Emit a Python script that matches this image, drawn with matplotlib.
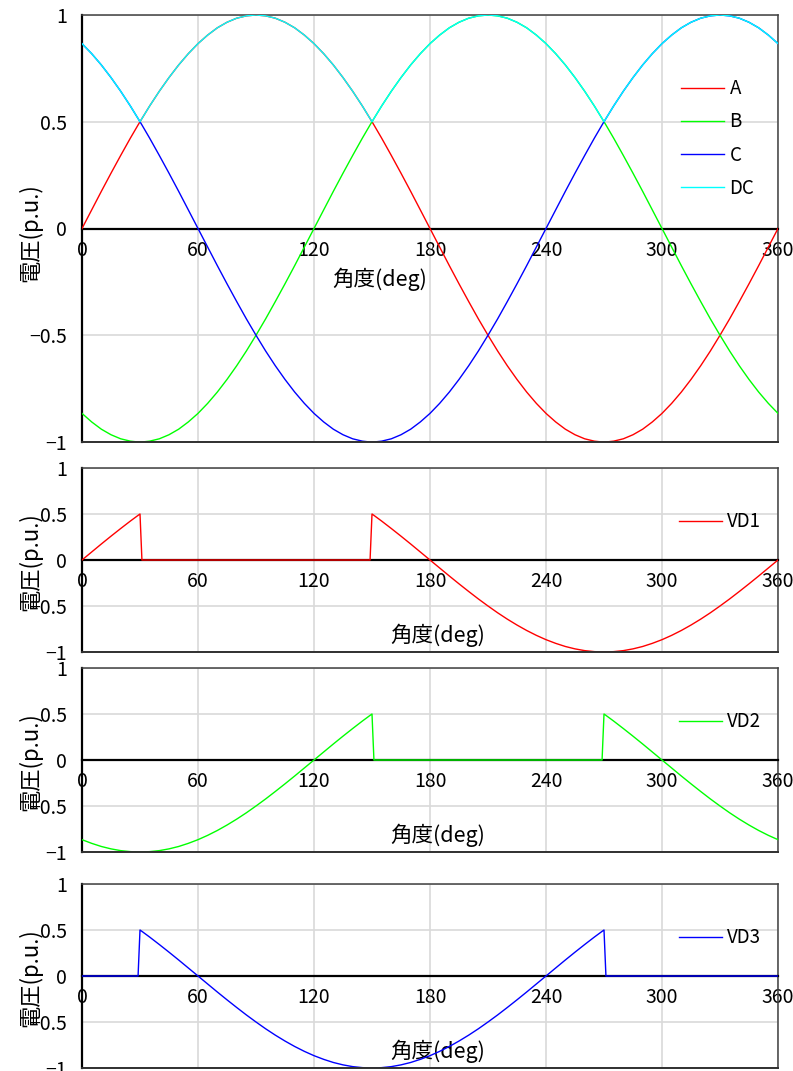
import matplotlib
matplotlib.use('Agg')
import matplotlib.pyplot as plt
import numpy as np

plt.rcParams['font.family'] = ['Noto Sans CJK JP', 'DejaVu Sans']

# angle grid (deg), with extra points around the commutation instants
deg = [0, 5, 10, 15, 20, 25, 29, 30, 31,
       35, 40, 45, 50, 55, 60, 65, 70, 75, 80, 85, 90,
       95, 100, 105, 110, 115, 120, 125, 130, 135, 140, 145,
       149, 150, 151,
       155, 160, 165, 170, 175, 180,
       185, 190, 195, 200, 205, 210, 215, 220, 225, 230, 235, 240, 245, 250,
       255, 260, 265,
       269, 270, 271,
       275, 280, 285, 290, 295, 300, 305, 310, 315, 320, 325, 330, 335, 340,
       345, 350, 355, 360]

# phase voltages (p.u.)
va = [0, 0.087, 0.174, 0.259, 0.342, 0.423, 0.485, 0.5, 0.515,
      0.574, 0.643, 0.707, 0.766, 0.819, 0.866, 0.906, 0.940, 0.966, 0.985,
      0.996, 1.0,
      0.996, 0.985, 0.966, 0.940, 0.906, 0.866, 0.819, 0.766, 0.707, 0.643,
      0.574,
      0.515, 0.5, 0.485,
      0.423, 0.342, 0.259, 0.174, 0.087, 0,
      -0.087, -0.174, -0.259, -0.342, -0.423, -0.5, -0.574, -0.643, -0.707,
      -0.766, -0.819, -0.866, -0.906, -0.940, -0.966, -0.985, -0.996,
      -1.0, -1.0, -1.0,
      -0.996, -0.985, -0.966, -0.940, -0.906, -0.866, -0.819, -0.766, -0.707,
      -0.643, -0.574, -0.5, -0.423, -0.342, -0.259, -0.174, -0.087, 0]
vb = [-0.866, -0.906, -0.940, -0.966, -0.985, -0.996, -1.0, -1.0, -1.0,
      -0.996, -0.985, -0.966, -0.940, -0.906, -0.866, -0.819, -0.766, -0.707,
      -0.643, -0.574, -0.5,
      -0.423, -0.342, -0.259, -0.174, -0.087, 0, 0.087, 0.174, 0.259, 0.342,
      0.423,
      0.485, 0.5, 0.515,
      0.574, 0.643, 0.707, 0.766, 0.819, 0.866,
      0.906, 0.940, 0.966, 0.985, 0.996, 1.0, 0.996, 0.985, 0.966, 0.940,
      0.906, 0.866, 0.819, 0.766, 0.707, 0.643, 0.574,
      0.515, 0.5, 0.485,
      0.423, 0.342, 0.259, 0.174, 0.087, 0, -0.087, -0.174, -0.259, -0.342,
      -0.423, -0.5, -0.574, -0.643, -0.707, -0.766, -0.819, -0.866]
vc = [0.866, 0.819, 0.766, 0.707, 0.643, 0.574, 0.515, 0.5, 0.485,
      0.423, 0.342, 0.259, 0.174, 0.087, 0, -0.087, -0.174, -0.259, -0.342,
      -0.423, -0.5,
      -0.574, -0.643, -0.707, -0.766, -0.819, -0.866, -0.906, -0.940, -0.966,
      -0.985, -0.996,
      -1.0, -1.0, -1.0,
      -0.996, -0.985, -0.966, -0.940, -0.906, -0.866,
      -0.819, -0.766, -0.707, -0.643, -0.574, -0.5, -0.423, -0.342, -0.259,
      -0.174, -0.087, 0, 0.087, 0.174, 0.259, 0.342, 0.423,
      0.485, 0.5, 0.515,
      0.574, 0.643, 0.707, 0.766, 0.819, 0.866, 0.906, 0.940, 0.966, 0.985,
      0.996, 1.0, 0.996, 0.985, 0.966, 0.940, 0.906, 0.866]

xticks = [0, 60, 120, 180, 240, 300, 360]
yticks = [-1, -0.5, 0, 0.5, 1]
ytick_labels = ['\u22121', '\u22120.5', '0', '0.5', '1']

# DC output is the top of the three phases; each thyristor sees its phase
# voltage except while that phase is the highest one (conducting)
A, B, C = np.array(va), np.array(vb), np.array(vc)
vdc = np.maximum(np.maximum(A, B), C)
vd1 = np.where(A > np.maximum(B, C), 0, A)
vd2 = np.where(B > np.maximum(A, C), 0, B)
vd3 = np.where(C > np.maximum(A, B), 0, C)

FS = 13.5
TFS = 14
W, H = 793, 1071


def setup(ax):
  ax.set_xlim(0, 360)
  ax.set_ylim(-1, 1)
  ax.set_xticks(xticks)
  ax.set_xticklabels([str(x) for x in xticks])
  ax.set_yticks(yticks)
  ax.set_yticklabels(ytick_labels)
  ax.tick_params(axis='both', length=0, labelsize=TFS, colors='black')
  ax.tick_params(axis='y', pad=11)
  ax.tick_params(axis='x', pad=8)
  ax.grid(color='#d9d9d9', lw=1.2, zorder=0)
  ax.set_axisbelow(True)
  # x axis crosses at zero
  ax.spines['bottom'].set_position(('data', 0))
  ax.spines['bottom'].set_color('black')
  ax.spines['bottom'].set_linewidth(1.6)
  ax.spines['left'].set_color('black')
  ax.spines['left'].set_linewidth(1.6)
  for s in ['top', 'right']:
    ax.spines[s].set_color('#404040')
    ax.spines[s].set_linewidth(1.1)
  ax.plot([0, 1], [0, 0], transform=ax.transAxes, color='#303030', lw=1.4,
          clip_on=False, zorder=4)
  ax.set_xlabel('角度(deg)', fontsize=15.5)
  ax.xaxis.label.set_va('center')
  ax.set_ylabel('電圧(p.u.)', fontsize=16)
  ax.yaxis.label.set_va('center')
  ax.yaxis.label.set_ha('center')
  ax.yaxis.set_label_coords(-(82 - 30) / 696, 0.49)
  return ax


fig = plt.figure(figsize=(W / 100, H / 100), dpi=100)

left = 82 / W
width = 696 / W

# top panel: phase voltages and DC output
ax1 = fig.add_axes([left, (H - 442) / H, width, 427 / H])
setup(ax1)
ax1.plot(deg, A, color='#ff0000', lw=1, label='A', zorder=3)
ax1.plot(deg, B, color='#00ff00', lw=1, label='B', zorder=3)
ax1.plot(deg, C, color='#0000ff', lw=1, label='C', zorder=3)
ax1.plot(deg, vdc, color='#00ffff', lw=1, label='DC', zorder=3)
ax1.xaxis.set_label_coords((380 - 82) / 696, 0.382)
ax1.legend(loc='upper left', bbox_to_anchor=(0.861, 0.852), frameon=False,
           fontsize=FS, handlelength=2.3, handletextpad=0.27, labelspacing=0.65,
           borderpad=0, borderaxespad=0)

# thyristor voltages
panels = [(652, vd1, '#ff0000', 'VD1'),
          (852, vd2, '#00ff00', 'VD2'),
          (1068, vd3, '#0000ff', 'VD3')]
for bottom, vals, col, name in panels:
  ax = fig.add_axes([left, (H - bottom) / H, width, 184 / H])
  setup(ax)
  ax.plot(deg, vals, color=col, lw=1, label=name, zorder=3)
  ax.xaxis.set_label_coords((438 - 82) / 696, 0.092)
  ax.legend(loc='upper left', bbox_to_anchor=(0.858, 0.765), frameon=False,
            fontsize=FS, handlelength=2.3, handletextpad=0.27,
            borderpad=0, borderaxespad=0)

fig.savefig('out.png', dpi=100)
